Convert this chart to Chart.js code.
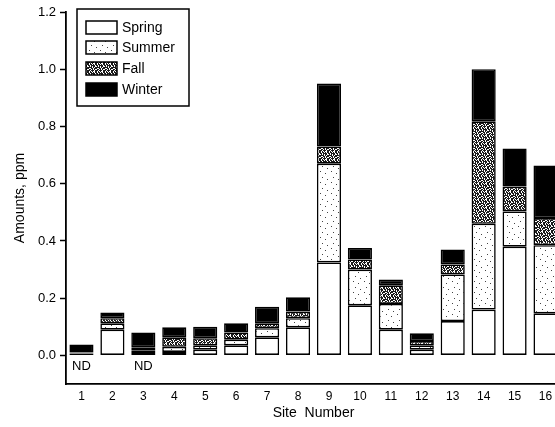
<!DOCTYPE html>
<html>
<head>
<meta charset="utf-8">
<script src="https://cdn.jsdelivr.net/npm/chart.js@4/dist/chart.umd.min.js"></script>
<style>
  html, body { margin: 0; padding: 0; background: #fff; overflow: hidden; }
</style>
</head>
<body>
<canvas id="siteChart" width="562" height="427"></canvas>
<script>
// values (ppm), stacked bottom -> top
var sites = ['1', '2', '3', '4', '5', '6', '7', '8', '9', '10', '11', '12', '13', '14', '15', '16'];
var spring = [0.007, 0.09, 0.008, 0.012, 0.02, 0.035, 0.063, 0.098, 0.325, 0.175, 0.09, 0.02, 0.12, 0.16, 0.38, 0.147];
var summer = [0, 0.022, 0.01, 0.018, 0.015, 0.02, 0.032, 0.032, 0.345, 0.125, 0.09, 0.015, 0.163, 0.30, 0.123, 0.238];
var fall = [0.003, 0.018, 0.01, 0.033, 0.025, 0.025, 0.017, 0.023, 0.06, 0.035, 0.065, 0.015, 0.035, 0.358, 0.087, 0.095];
var winter = [0.028, 0.02, 0.052, 0.035, 0.04, 0.032, 0.058, 0.05, 0.22, 0.04, 0.02, 0.027, 0.052, 0.182, 0.133, 0.184];
var yTicks = [0, 0.2, 0.4, 0.6, 0.8, 1.0, 1.2];
var ndSites = ['1', '3'];
var seasons = ['Spring', 'Summer', 'Fall', 'Winter'];

var FONT = '"Liberation Sans", Arial, sans-serif';

function makePattern(rows, fg) {
    var c = document.createElement('canvas');
    c.width = rows[0].length;
    c.height = rows.length;
    var g = c.getContext('2d');
    g.fillStyle = '#fff';
    g.fillRect(0, 0, c.width, c.height);
    g.fillStyle = fg;
    rows.forEach(function (r, y) {
        for (var x = 0; x < r.length; x++) {
            if (r[x] === '#') g.fillRect(x, y, 1, 1);
        }
    });
    return g.createPattern(c, 'repeat');
}

var dotted = makePattern([
    '...........',
    '...#.......',
    '...........',
    '........#..',
    '...........',
    '...........',
    '.#.........',
    '...........',
    '......#....',
    '...........',
    '...........'
], '#444');

var speckle = makePattern([
    '#.##.#.#',
    '##.####.',
    '.#.#.##.',
    '####.#.#',
    '#..##.##',
    '.##.#.#.',
    '##.###.#',
    '#.#.#..#'
], '#1a1a1a');

var fills = ['#ffffff', dotted, speckle, '#000000'];
var seriesData = [spring, summer, fall, winter];

// legend box + ND markers
var extras = {
    id: 'extras',
    afterDraw: function (chart) {
        var ctx = chart.ctx;
        ctx.save();
        ctx.lineWidth = 1.5;
        ctx.strokeStyle = '#000';
        ctx.fillStyle = '#fff';
        ctx.fillRect(77, 9, 112, 97);
        ctx.strokeRect(77, 9, 112, 97);
        var rowsY = [21, 41, 62, 83];
        ctx.font = '14px ' + FONT;
        ctx.textBaseline = 'middle';
        seasons.forEach(function (s, i) {
            ctx.fillStyle = fills[i];
            ctx.fillRect(86, rowsY[i], 31, 13);
            ctx.strokeRect(86, rowsY[i], 31, 13);
            ctx.fillStyle = '#000';
            ctx.fillText(s, 122, rowsY[i] + 7);
        });

        var xs = chart.scales.x, ys = chart.scales.y;
        ctx.font = '13px ' + FONT;
        ctx.textAlign = 'center';
        ndSites.forEach(function (s) {
            ctx.fillText('ND', xs.getPixelForValue(sites.indexOf(s)), ys.getPixelForValue(-0.037));
        });
        ctx.restore();
    }
};

var chart = new Chart(document.getElementById('siteChart'), {
    type: 'bar',
    data: {
        labels: sites,
        datasets: seasons.map(function (s, i) {
            return {
                label: s,
                data: seriesData[i],
                backgroundColor: fills[i],
                borderColor: '#000',
                borderWidth: 1.6,
                borderSkipped: false,
                barPercentage: 0.78,
                categoryPercentage: 1
            };
        })
    },
    options: {
        responsive: false,
        animation: false,
        layout: { padding: { top: 12, right: 1, left: 0, bottom: 0 } },
        plugins: {
            legend: { display: false },
            tooltip: { enabled: false }
        },
        scales: {
            x: {
                stacked: true,
                grid: { display: false, drawTicks: false },
                border: { display: true, color: '#000', width: 1.8 },
                ticks: {
                    color: '#000',
                    font: { family: FONT, size: 12 },
                    padding: 5,
                    maxRotation: 0,
                    autoSkip: false
                },
                title: {
                    display: true,
                    text: 'Site  Number',
                    color: '#000',
                    font: { family: FONT, size: 14 },
                    padding: { top: 0, bottom: 5 }
                },
                afterFit: function (s) { s.height = 43; }
            },
            y: {
                stacked: true,
                min: -0.1,
                max: 1.2,
                afterBuildTicks: function (s) {
                    s.ticks = yTicks.map(function (v) { return { value: v }; });
                },
                grid: {
                    drawOnChartArea: false,
                    tickLength: 6,
                    tickColor: '#000',
                    tickWidth: 1.5
                },
                border: { display: true, color: '#000', width: 1.8 },
                ticks: {
                    color: '#000',
                    font: { family: FONT, size: 13 },
                    padding: 4,
                    callback: function (v) { return Number(v).toFixed(1); }
                },
                title: {
                    display: true,
                    text: 'Amounts, ppm',
                    color: '#000',
                    font: { family: FONT, size: 14 },
                    padding: { top: 12, bottom: 0 }
                },
                afterFit: function (s) { s.width = 66; }
            }
        }
    },
    plugins: [extras]
});
</script>
</body>
</html>
